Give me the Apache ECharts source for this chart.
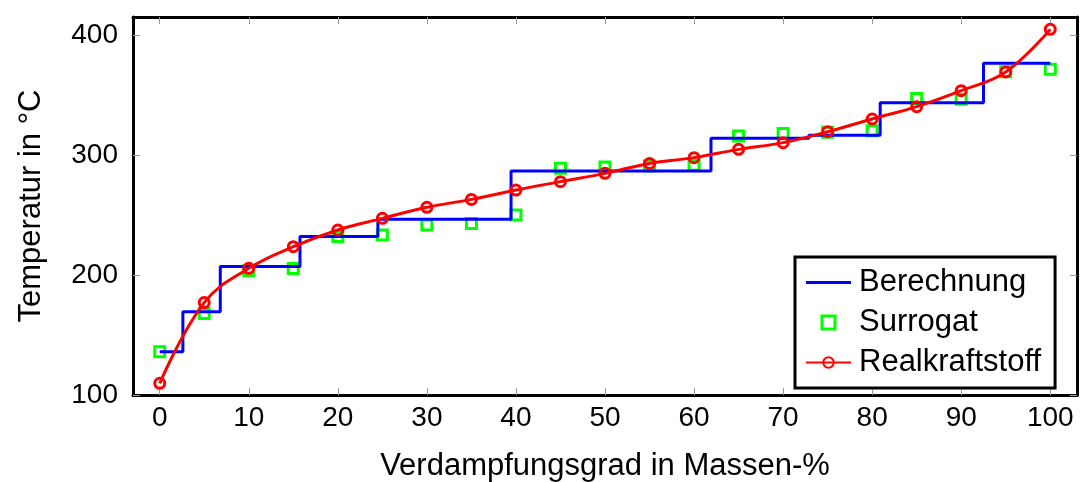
<!DOCTYPE html>
<html>
<head>
<meta charset="utf-8">
<script src="https://cdn.jsdelivr.net/npm/echarts@6/dist/echarts.min.js"></script>
<style>html,body{margin:0;padding:0;background:#fff;}#c{width:1081px;height:482px;}</style>
</head>
<body>
<div id="c"></div>
<script>
// X tick labels and ticks
var xTicks = [0, 10, 20, 30, 40, 50, 60, 70, 80, 90, 100];
var yTicks = [100, 200, 300, 400];
// Berechnung: step curve, [Massen-%, Temperatur] at each step start
var berechnungX = [0, 2.6, 6.8, 15.75, 24.5, 39.45, 61.9, 72.9, 80.9, 92.5, 100];
var berechnungY = [136, 169.4, 207, 232, 246.4, 286.7, 314, 316.5, 343.6, 376.4, 376.4];
// Measurement x positions
var sampleX = [0, 5, 10, 15, 20, 25, 30, 35, 40, 45, 50, 55, 60, 65, 70, 75, 80, 85, 90, 95, 100];
var surrogatY = [136, 168, 203.5, 205.5, 232, 233.3, 241.7, 243, 250, 289, 290, 290.8, 291.5, 315.8, 318, 319, 320.3, 347, 346.4, 369.4, 371.4];
var realY = [109.7, 177, 205.6, 223.6, 237.5, 247.2, 256.4, 263, 270.8, 277.8, 284.7, 293, 297.8, 304.7, 310.3, 319.4, 330, 340.3, 353.6, 369.2, 404.7];

function pairs(xs, ys) { return xs.map(function (x, i) { return [x, ys[i]]; }); }

var FONT = 'Liberation Sans';
var GREEN = '#00ff00';
var frame = { show: true, onZero: false, lineStyle: { color: '#000', width: 3 } };
var tick = { show: true, inside: true, length: 7, lineStyle: { color: '#999', width: 1 } };

var chart = echarts.init(document.getElementById('c'));
chart.setOption({
  animation: false,
  textStyle: { fontFamily: FONT },
  grid: { left: 133, right: 4, top: 17, bottom: 87, containLabel: false, outerBoundsMode: 'none' },
  legend: {
    orient: 'vertical',
    left: 795, top: 257,
    padding: [10, 14, 10, 10],
    itemGap: 9,
    itemWidth: 45, itemHeight: 13,
    borderColor: '#000', borderWidth: 3,
    backgroundColor: '#fff',
    textStyle: { fontFamily: FONT, fontSize: 31, color: '#000', lineHeight: 30, padding: [0, 0, 0, 3] },
    data: [
      { name: 'Berechnung', icon: 'path://M0,0 L45,0 L45,3 L0,3 Z', itemStyle: { color: '#0000ff', borderWidth: 0 } },
      { name: 'Surrogat', icon: 'path://M0,0 L12,0 L12,12 L0,12 Z', itemStyle: { color: '#fff', borderColor: GREEN, borderWidth: 3 } },
      { name: 'Realkraftstoff' }
    ]
  },
  xAxis: [{
    type: 'value', min: -3, max: 103,
    name: 'Verdampfungsgrad in Massen-%', nameLocation: 'middle', nameGap: 56,
    nameTextStyle: { fontFamily: FONT, fontSize: 31, color: '#000' },
    axisLine: frame,
    axisTick: Object.assign({ customValues: xTicks }, tick),
    axisLabel: { customValues: xTicks, fontFamily: FONT, fontSize: 28, color: '#000', margin: 9 },
    splitLine: { show: false }
  }, {
    type: 'value', min: -3, max: 103, position: 'top',
    axisLine: frame,
    axisTick: Object.assign({ customValues: xTicks }, tick),
    axisLabel: { show: false },
    splitLine: { show: false }
  }],
  yAxis: [{
    type: 'value', min: 100, max: 415,
    name: 'Temperatur in °C', nameLocation: 'middle', nameGap: 86, nameRotate: 90,
    nameTextStyle: { fontFamily: FONT, fontSize: 31, color: '#000' },
    axisLine: frame,
    axisTick: Object.assign({ customValues: yTicks }, tick),
    axisLabel: { customValues: yTicks, fontFamily: FONT, fontSize: 28, color: '#000', margin: 15 },
    splitLine: { show: false }
  }, {
    type: 'value', min: 100, max: 415, position: 'right',
    axisLine: frame,
    axisTick: Object.assign({ customValues: yTicks }, tick),
    axisLabel: { show: false },
    splitLine: { show: false }
  }],
  series: [{
    name: 'Berechnung', type: 'line', step: 'end',
    data: pairs(berechnungX, berechnungY),
    symbol: 'none', color: '#0000ff',
    lineStyle: { color: '#0000ff', width: 3 }
  }, {
    name: 'Surrogat', type: 'scatter',
    data: pairs(sampleX, surrogatY),
    symbol: 'rect', symbolSize: 10, color: GREEN,
    itemStyle: { color: '#fff', borderColor: GREEN, borderWidth: 3, opacity: 1 }
  }, {
    name: 'Realkraftstoff', type: 'line', smooth: 0.4,
    data: pairs(sampleX, realY),
    symbol: 'circle', symbolSize: 10, color: '#ff0000',
    lineStyle: { color: '#ff0000', width: 3 },
    itemStyle: { color: 'rgba(255,255,255,0)', borderColor: '#ff0000', borderWidth: 3 }
  }]
});
</script>
</body>
</html>
